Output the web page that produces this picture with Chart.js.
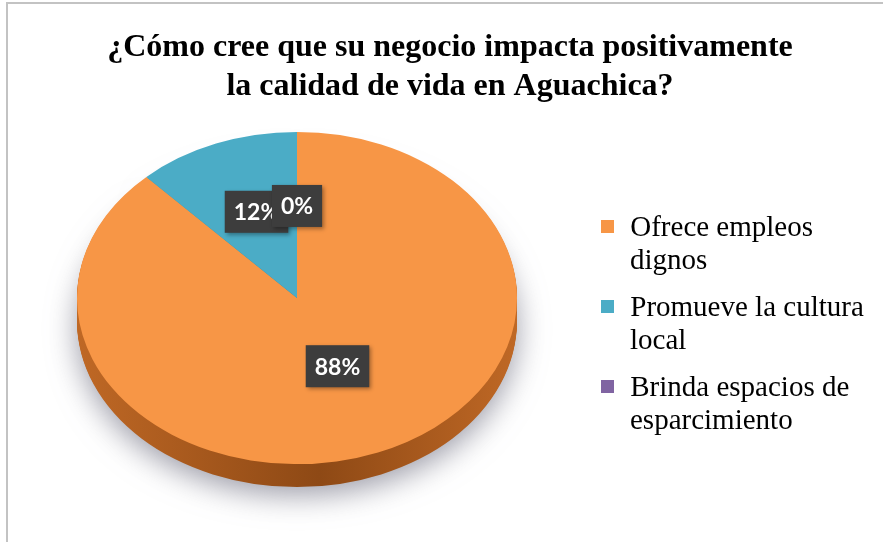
<!DOCTYPE html>
<html>
<head>
<meta charset="utf-8">
<script src="https://cdn.jsdelivr.net/npm/chart.js@4/dist/chart.umd.min.js"></script>
<style>
  body { margin: 0; background: #fff; }
  #wrap { position: relative; width: 883px; height: 542px; }
  #frame { position: absolute; left: 6px; top: 2px; right: -4px; bottom: -4px;
           border-left: 2px solid #c3c3c3; border-top: 2px solid #c3c3c3; }
  canvas { position: absolute; left: 0; top: 0; }
</style>
</head>
<body>
<div id="wrap">
  <div id="frame"></div>
  <canvas id="pie" width="883" height="542"></canvas>
</div>
<script>
// data
var titleLines = ['¿Cómo cree que su negocio impacta positivamente', 'la calidad de vida en Aguachica?']
var categories = ['Ofrece empleos dignos', 'Promueve la cultura local', 'Brinda espacios de esparcimiento']
var values = [88, 12, 0]
var colors = ['#f79646', '#4bacc6', '#8064a2']
var sideDark = ['#8e4915', '#2f7f95', '#5a437a']
var sideLight = ['#bf6825', '#3f9db6', '#6c5490']

// look of the fake 3d pie
var squash = 0.755
var depth = 23
var labelLift = 9

function squashAt(ctx, cy) {
    ctx.translate(0, cy)
    ctx.scale(1, squash)
    ctx.translate(0, -cy)
}

var pie3d = {
    id: 'pie3d',
    beforeDatasetsDraw: function (chart) {
        var ctx = chart.ctx
        var arcs = chart.getDatasetMeta(0).data
        var cx = arcs[0].x, cy = arcs[0].y, r = arcs[0].outerRadius
        for (var d = depth; d >= 1; d--) {
            ctx.save()
            ctx.translate(0, d)
            squashAt(ctx, cy)
            if (d == depth) {
                ctx.shadowColor = 'rgba(90,90,110,0.6)'
                ctx.shadowBlur = 30
                ctx.shadowOffsetY = 8
            }
            arcs.forEach(function (a, i) {
                if (a.endAngle - a.startAngle <= 0) return
                var g = ctx.createLinearGradient(cx - r, 0, cx + r, 0)
                g.addColorStop(0, sideLight[i])
                g.addColorStop(0.55, sideDark[i])
                g.addColorStop(1, sideLight[i])
                ctx.beginPath()
                ctx.moveTo(a.x, a.y)
                ctx.arc(a.x, a.y, a.outerRadius, a.startAngle, a.endAngle)
                ctx.closePath()
                ctx.fillStyle = g
                ctx.fill()
            })
            ctx.restore()
        }
        ctx.save()
        squashAt(ctx, cy)
    },
    afterDatasetsDraw: function (chart) {
        var ctx = chart.ctx
        ctx.restore()
        var arcs = chart.getDatasetMeta(0).data
        ctx.font = 'bold 23px Lato'
        ctx.textAlign = 'center'
        ctx.textBaseline = 'middle'
        // in data order so 0% sits on top of 12%
        arcs.forEach(function (a, i) {
            var p = a.tooltipPosition()
            var x = p.x
            var y = a.y + (p.y - a.y) * squash - labelLift
            var txt = values[i] + '%'
            var w = ctx.measureText(txt).width + 18
            var h = 42
            ctx.save()
            ctx.shadowColor = 'rgba(0,0,0,0.35)'
            ctx.shadowBlur = 4
            ctx.shadowOffsetX = 2
            ctx.shadowOffsetY = 2
            ctx.fillStyle = '#3d3d3d'
            ctx.fillRect(x - w / 2, y - h / 2, w, h)
            ctx.restore()
            ctx.fillStyle = '#ffffff'
            ctx.fillText(txt, x, y + 1)
        })
    },
    afterDraw: function (chart) {
        var ctx = chart.ctx
        ctx.save()
        // title
        ctx.fillStyle = '#000'
        ctx.font = 'bold 32px "Liberation Serif"'
        ctx.textAlign = 'center'
        ctx.textBaseline = 'alphabetic'
        titleLines.forEach(function (t, i) {
            ctx.fillText(t, 450, 56 + i * 39)
        })
        // legend, wrapped at the right edge
        ctx.font = '29px "Liberation Serif"'
        ctx.textAlign = 'left'
        var y = 236
        categories.forEach(function (c, i) {
            var words = c.split(' ')
            var lines = []
            var cur = ''
            words.forEach(function (wd) {
                var t = cur ? cur + ' ' + wd : wd
                if (ctx.measureText(' ' + t).width > 252 && cur) {
                    lines.push(cur)
                    cur = wd
                } else cur = t
            })
            lines.push(cur)
            ctx.fillStyle = colors[i]
            ctx.fillRect(601, y - 16, 13, 13)
            ctx.fillStyle = '#000'
            lines.forEach(function (l, j) {
                ctx.fillText((j == 0 ? ' ' : '') + l, j == 0 ? 623 : 630, y + j * 33)
            })
            y += lines.length * 33 + 14
        })
        ctx.restore()
    }
}

new Chart(document.getElementById('pie'), {
    type: 'pie',
    data: {
        labels: categories,
        datasets: [{
            data: values,
            backgroundColor: colors,
            borderWidth: 0
        }]
    },
    options: {
        responsive: false,
        animation: false,
        radius: 220,
        layout: { padding: { left: 77, right: 366, top: 113, bottom: 59 } },
        plugins: {
            legend: { display: false },
            title: { display: false },
            tooltip: { enabled: false }
        }
    },
    plugins: [pie3d]
});
</script>
</body>
</html>
